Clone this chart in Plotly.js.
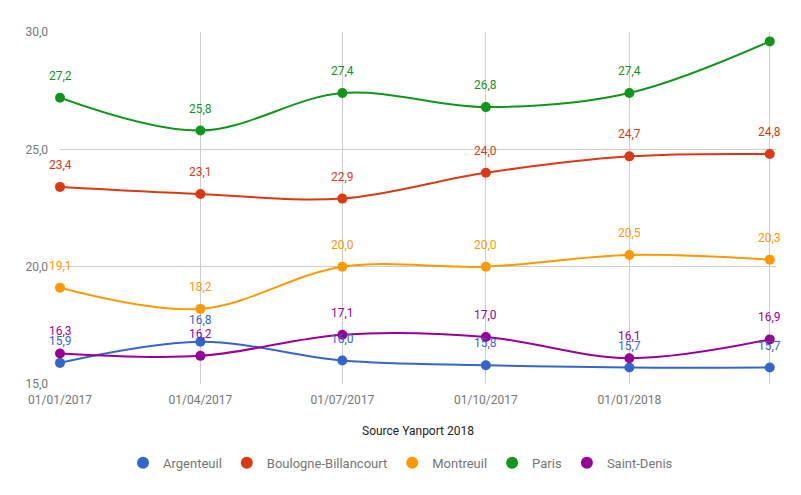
<!DOCTYPE html>
<html><head><meta charset="utf-8">
<script src="https://cdn.plot.ly/plotly-3.0.1.min.js"></script>
<style>html,body{margin:0;padding:0;background:#fff}#chart{width:801px;height:495px}</style>
</head><body><div id="chart"></div>
<script>
const dates = ['2017-01-01','2017-04-01','2017-07-01','2017-10-01','2018-01-01','2018-04-01'];
const tickLabels = ['01/01/2017','01/04/2017','01/07/2017','01/10/2017','01/01/2018',''];
const seriesNames = ['Argenteuil','Boulogne-Billancourt','Montreuil','Paris','Saint-Denis'];
const argenteuil = [15.9, 16.8, 16.0, 15.8, 15.7, 15.7];
const boulogne = [23.4, 23.1, 22.9, 24.0, 24.7, 24.8];
const montreuil = [19.1, 18.2, 20.0, 20.0, 20.5, 20.3];
const paris = [27.2, 25.8, 27.4, 26.8, 27.4, 29.6];
const saintDenis = [16.3, 16.2, 17.1, 17.0, 16.1, 16.9];
const colors = ['#3366cc','#dc3912','#ff9900','#109618','#990099'];
const allSeries = [argenteuil, boulogne, montreuil, paris, saintDenis];

const traces = [];
const annotations = [];
const fmt = v => v.toFixed(1).replace('.', ',');
allSeries.forEach((vals, i) => {
  traces.push({
    x: dates, y: vals, type: 'scatter', mode: 'lines+markers',
    line: {color: colors[i], width: 2, shape: 'spline', smoothing: 1},
    marker: {color: colors[i], size: 10},
    showlegend: false, hoverinfo: 'skip', cliponaxis: false
  });
  traces.push({
    x: [null], y: [null], type: 'scatter', mode: 'markers', name: seriesNames[i],
    marker: {color: colors[i], size: 12}, showlegend: true
  });
  vals.forEach((v, j) => {
    if (v > 29) return; // label would fall outside the plot area
    annotations.push({
      x: dates[j], y: v, text: fmt(v), showarrow: false, yshift: 22,
      font: {family: 'Roboto', size: 12, color: colors[i]}
    });
  });
});

const layout = {
  width: 801, height: 495,
  margin: {l: 60, r: 25, t: 32, b: 111},
  paper_bgcolor: '#fff', plot_bgcolor: '#fff',
  font: {family: 'Roboto', size: 12, color: '#757575'},
  separators: ',.',
  xaxis: {
    type: 'date', range: ['2017-01-01', '2018-04-05'], automargin: false,
    tickmode: 'array', tickvals: dates, ticktext: tickLabels, tickangle: 0,
    showgrid: true, gridcolor: '#cccccc', gridwidth: 1,
    zeroline: false, showline: false, ticks: '', ticklabelstandoff: 7,
    tickfont: {family: 'Roboto', size: 12, color: '#757575'},
    title: {text: 'Source Yanport 2018', standoff: 20, font: {family: 'Roboto', size: 12, color: '#222222'}}
  },
  yaxis: {
    range: [15, 30], tickmode: 'array', tickvals: [15, 20, 25, 30], automargin: false,
    tickformat: '.1f', showgrid: true, gridcolor: '#cccccc', gridwidth: 1,
    zeroline: false, showline: false, ticks: '', ticklabelstandoff: 11,
    tickfont: {family: 'Roboto', size: 12, color: '#757575'}
  },
  legend: {
    orientation: 'h', x: 0.4756, xanchor: 'center',
    y: -0.224, yanchor: 'middle', itemwidth: 30,
    font: {family: 'Roboto', size: 13, color: '#757575'}
  },
  annotations: annotations,
  hovermode: false
};
Plotly.newPlot('chart', traces, layout, {displayModeBar: false, staticPlot: true});
</script></body></html>
